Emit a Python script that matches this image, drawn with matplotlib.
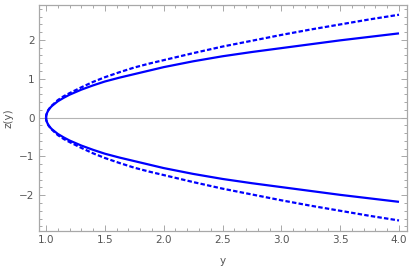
import matplotlib
matplotlib.use("Agg")
import matplotlib.pyplot as plt
from matplotlib.ticker import MultipleLocator

# values (upper branch; lower branch is the mirror)
ySolid = [1.0, 1.002, 1.005, 1.01, 1.02, 1.035, 1.05, 1.075, 1.1, 1.15, 1.2, 1.3, 1.4, 1.5,
          1.625, 1.75, 1.875, 2.0, 2.25, 2.5, 2.75, 3.0, 3.25, 3.5, 3.75, 4.0]
zSolid = [0.0, 0.06, 0.09, 0.13, 0.19, 0.25, 0.30, 0.36, 0.42, 0.51, 0.59, 0.72, 0.83, 0.93,
          1.03, 1.12, 1.21, 1.30, 1.45, 1.58, 1.69, 1.79, 1.89, 1.99, 2.08, 2.17]
yDash = [1.0, 1.002, 1.005, 1.01, 1.02, 1.035, 1.05, 1.075, 1.1, 1.15, 1.2, 1.3, 1.4, 1.5,
         1.625, 1.75, 1.875, 2.0, 2.25, 2.5, 2.75, 3.0, 3.25, 3.5, 3.75, 4.0]
zDash = [0.0, 0.06, 0.09, 0.13, 0.20, 0.26, 0.31, 0.38, 0.45, 0.55, 0.63, 0.78, 0.92, 1.04,
         1.17, 1.29, 1.39, 1.48, 1.66, 1.83, 1.98, 2.13, 2.27, 2.40, 2.53, 2.65]

xTicks = [1.0, 1.5, 2.0, 2.5, 3.0, 3.5, 4.0]
zTicks = [-2, -1, 0, 1, 2]

gray = "#a8a8a8"
labelGray = "#555555"

fig = plt.figure(figsize=(4.12, 2.73), dpi=100)
ax = fig.add_axes([0.094, 0.154, 0.893, 0.829])

ax.axhline(0, color="#b4b4b4", lw=0.8, zorder=1)

ax.plot(ySolid, zSolid, color="blue", lw=1.6, solid_capstyle="butt")
ax.plot(ySolid, [-z for z in zSolid], color="blue", lw=1.6, solid_capstyle="butt")
ax.plot(yDash, zDash, color="blue", lw=1.6, dashes=(2.0, 1.0))
ax.plot(yDash, [-z for z in zDash], color="blue", lw=1.6, dashes=(2.0, 1.0))

ax.set_xlim(0.938, 4.065)
ax.set_ylim(-2.92, 2.91)

ax.set_xticks(xTicks)
ax.set_xticklabels([f"{t:.1f}" for t in xTicks])
ax.set_yticks(zTicks)
ax.set_yticklabels([str(t).replace("-", "\u2212") for t in zTicks])
ax.xaxis.set_minor_locator(MultipleLocator(0.1))
ax.yaxis.set_minor_locator(MultipleLocator(0.2))

for s in ax.spines.values():
    s.set_color(gray)
    s.set_linewidth(0.9)

ax.tick_params(which="both", direction="in", top=True, right=True, color=gray, width=0.7)
ax.tick_params(which="major", length=4, labelsize=7.5, labelcolor=labelGray, pad=3)
ax.tick_params(which="minor", length=2)

ax.set_xlabel("y", fontsize=7.5, color=labelGray, labelpad=8)
ax.set_ylabel("z(y)", fontsize=7.5, color=labelGray, labelpad=4)

fig.savefig("out.png", dpi=100)
